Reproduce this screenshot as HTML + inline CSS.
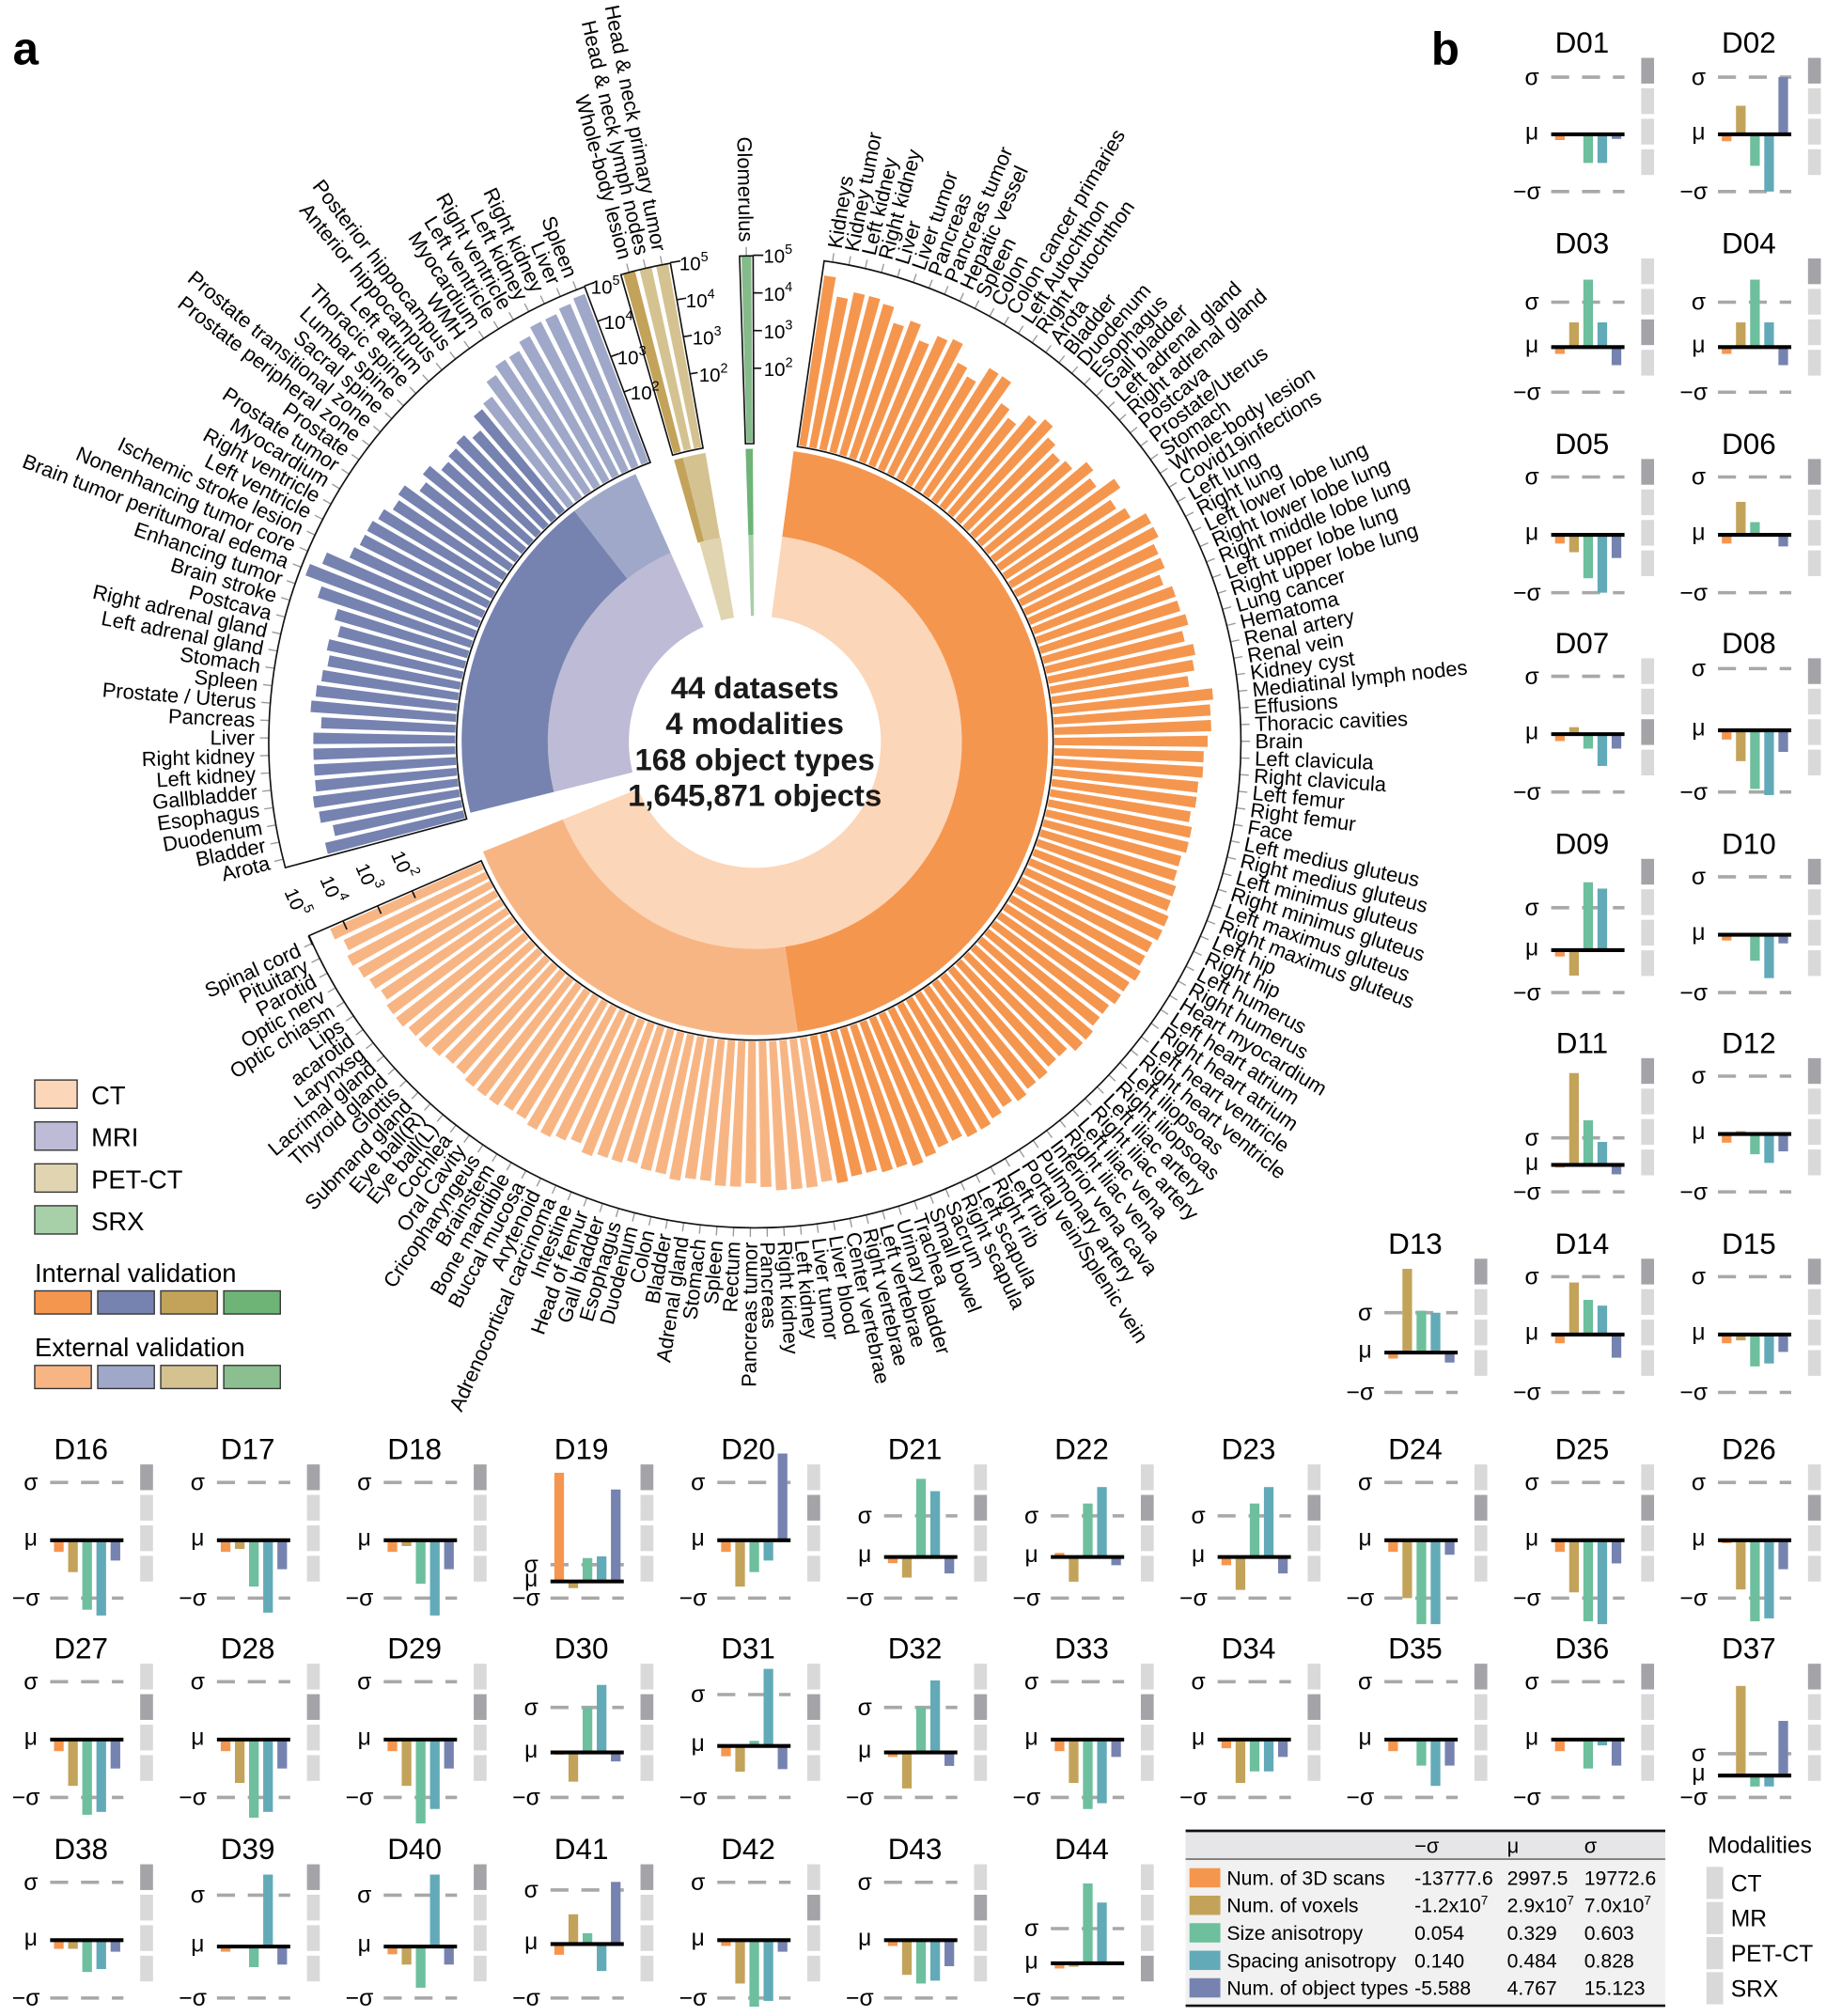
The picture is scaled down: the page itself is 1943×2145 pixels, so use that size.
<!DOCTYPE html>
<html><head><meta charset="utf-8">
<style>
html,body{margin:0;padding:0;background:#fff;}
svg{display:block;font-family:"Liberation Sans",Arial,sans-serif;}
</style></head>
<body>
<svg id="s" width="1943" height="2145" viewBox="0 0 1420 1568" preserveAspectRatio="none" xmlns="http://www.w3.org/2000/svg"></svg>
<script>
(function(){
var cx=587,cy=577,out=[];
function P(r,a){var t=a*Math.PI/180;return [cx+r*Math.sin(t),cy-r*Math.cos(t)];}
function f(n){return n.toFixed(2);}
function sector(r0,r1,a0,a1,fill,stroke,sw){
 var p0=P(r1,a0),p1=P(r1,a1),p2=P(r0,a1),p3=P(r0,a0),L=(a1-a0)>180?1:0;
 return '<path d="M'+f(p0[0])+' '+f(p0[1])+' A'+r1+' '+r1+' 0 '+L+' 1 '+f(p1[0])+' '+f(p1[1])+' L'+f(p2[0])+' '+f(p2[1])+' A'+r0+' '+r0+' 0 '+L+' 0 '+f(p3[0])+' '+f(p3[1])+' Z" fill="'+(fill||'none')+'"'+(stroke?' stroke="'+stroke+'" stroke-width="'+(sw||1.2)+'"':'')+'/>';
}
out.push(sector(98,161,7.6,248,'#fcd6b8'));
out.push(sector(161,228,7.6,171.6,'#f5964f'));
out.push(sector(161,228,171.6,248,'#f8b584'));
out.push(sector(98,161,256,336,'#bdbbd6'));
out.push(sector(161,228,256,322,'#7683b0'));
out.push(sector(161,228,322,336,'#9fa8c8'));
out.push(sector(98,161,344.5,350.5,'#e1d4b0'));
out.push(sector(161,228,344,345.8,'#c3a35a'));
out.push(sector(161,228,345.8,350.3,'#d5c291'));
out.push(sector(98,161,358.2,359.6,'#a7cfa8'));
out.push(sector(161,228,358.2,359.6,'#6db476'));

function R(v){return 232+29.3*v;}
function label(a,txt){
 var p=P(389,a),t;
 var q0=P(378,a),q1=P(385,a);
 out.push('<line x1="'+f(q0[0])+'" y1="'+f(q0[1])+'" x2="'+f(q1[0])+'" y2="'+f(q1[1])+'" stroke="#999" stroke-width="1"/>');
 if(a<180){t='<text x="'+f(p[0])+'" y="'+f(p[1])+'" font-size="16" dominant-baseline="central" text-anchor="start" transform="rotate('+f(a-90)+' '+f(p[0])+' '+f(p[1])+')">'+txt+'</text>';}
 else{t='<text x="'+f(p[0])+'" y="'+f(p[1])+'" font-size="16" dominant-baseline="central" text-anchor="end" transform="rotate('+f(a+90)+' '+f(p[0])+' '+f(p[1])+')">'+txt+'</text>';}
 out.push(t);
}
function bars(a0,a1,names,vals,colorFn){
 var n=names.length,st=(a1-a0)/n;
 for(var i=0;i<n;i++){
  var c=a0+st*(i+0.5),w=st*0.36,v=vals[i]||3.8;
  out.push(sector(233,R(v),c-w,c+w,colorFn(i)));
  label(c,names[i]);
 }
}
var ctN=["Kidneys","Kidney tumor","Left kidney","Right kidney","Liver","Liver tumor","Pancreas","Pancreas tumor","Hepatic vessel","Spleen","Colon","Colon cancer primaries","Left Autochthon","Right Autochthon","Arota","Bladder","Duodenum","Esophagus","Gall bladder","Left adrenal gland","Right adrenal gland","Postcava","Prostate/Uterus","Stomach","Whole-body lesion","Covid19infections","Left lung","Right lung","Left lower lobe lung","Right lower lobe lung","Right middle lobe lung","Left upper lobe lung","Right upper lobe lung","Lung cancer","Hematoma","Renal artery","Renal vein","Kidney cyst","Mediatinal lymph nodes","Effusions","Thoracic cavities","Brain","Left clavicula","Right clavicula","Left femur","Right femur","Face","Left medius gluteus","Right medius gluteus","Left minimus gluteus","Right minimus gluteus","Left maximus gluteus","Right maximus gluteus","Left hip","Right hip","Left humerus","Right humerus","Heart myocardium","Left heart atrium","Right heart atrium","Left heart ventricle","Right heart ventricle","Left iliopsoas","Right iliopsoas","Left iliac artery","Right iliac artery","Left iliac vena","Right iliac vena","Inferior vena cava","Pulmonary artery","Portal vein/Splenic vein","Left rib","Right rib","Left scapula","Right scapula","Sacrum","Small bowel","Trachea","Urinary bladder","Left vertebrae","Right vertebrae","Center vertebrae",
"Liver blood","Liver tumor","Left kidney","Right kidney","Pancreas","Pancreas tumor","Rectum","Spleen","Stomach","Adrenal gland","Bladder","Colon","Duodenum","Esophagus","Gall bladder","Head of femur","Intestine","Adrenocortical carcinoma","Arytenoid","Buccal mucosa","Bone mandible","Brainstem","Cricopharyngeus","Oral Cavity","Cochlea","Eye ball(L)","Eye ball(R)","Submand gland","Glottis","Thyroid gland","Lacrimal gland","Larynxsg","acarotid","Lips","Optic chiasm","Optic nerv","Parotid","Pituitary","Spinal cord"];
var ctV=[4.6,4.1,4.3,4.3,4.2,3.8,4.0,3.6,3.9,4.0,3.5,3.3,
3.8,3.8,3.2,3.0,3.4,3.6,3.3,3.1,3.2,3.6,3.4,3.9,3.5,3.7,
4.1,4.1,3.9,3.9,3.7,3.9,3.9,4.0,3.8,4.0,3.9,3.7,4.3,4.2,4.2,
4.1,4.0,4.0,3.9,3.9,3.8,3.9,3.9,3.8,3.8,3.9,3.9,4.0,4.0,3.9,3.9,4.0,
3.9,3.9,3.8,3.8,3.9,3.9,3.7,3.7,3.8,3.8,3.9,3.8,3.9,4.0,4.0,3.9,3.9,4.0,4.1,4.0,4.0,3.9,3.9,4.0,
3.9,4.0,4.0,4.0,3.9,3.8,3.9,3.9,3.8,3.8,3.9,3.8,3.8,3.7,3.8,3.8,3.9,3.7,3.8,3.9,3.9,3.8,3.8,3.9,3.9,3.9,3.8,3.8,3.9,4.0,4.0,4.1,4.1,4.0,4.1,4.2,4.3,4.2,4.4];
bars(8.2,246.5,ctN,ctV,function(i){return i<82?'#f5964f':'#f8b584';});
var mrN=["Arota","Bladder","Duodenum","Esophagus","Gallbladder","Left kidney","Right kidney","Liver","Pancreas","Prostate / Uterus","Spleen","Stomach","Left adrenal gland","Right adrenal gland","Postcava","Brain stroke","Enhancing tumor","Brain tumor peritumoral edema","Nonenhancing tumor core","Ischemic stroke lesion","Left ventricle","Right ventricle","Myocardium","Prostate tumor","Prostate","Prostate peripheral zone","Prostate transitional zone","Sacral spine","Lumbar spine","Thoracic spine","Left atrium","Anterior hippocampus","Posterior hippocampus","WMH","Myocardium","Left ventricle","Right ventricle","Left kidney","Right kidney","Liver","Spleen"];
var mrV=[3.8,3.5,3.8,3.9,3.8,3.8,3.8,3.8,3.6,3.9,3.8,3.7,3.6,3.7,3.5,3.7,4.3,4.8,4.5,3.9,3.8,3.8,3.7,3.5,3.6,3.2,3.4,3.1,3.2,3.3,3.1,3.5,3.6,4.0,4.2,4.2,4.4,4.6,4.6,4.7,4.8];
bars(255,339.5,mrN,mrV,function(i){return i<32?'#7683b0':'#9fa8c8';});
bars(344,350,["Whole-body lesion","Head &amp; neck lymph nodes","Head &amp; neck primary tumor"],[5,5,5],function(i){return i==0?'#c3a35a':'#d5c291';});
bars(358.2,359.8,["Glomerulus"],[5],function(){return '#85bb8a';});
out.push(sector(232,378,8.2,246.5,null,'#111',1.2));
out.push(sector(232,378,255,339.5,null,'#111',1.2));
out.push(sector(232,378,344,350,null,'#111',1.2));
out.push(sector(232,378,358.2,359.8,null,'#111',1.2));
function axis(a,dx,side){
 for(var k=2;k<=5;k++){
  var r=R(k),p=P(r,a),q=P(r,a+side*1.2);
  out.push('<line x1="'+f(p[0])+'" y1="'+f(p[1])+'" x2="'+f(q[0])+'" y2="'+f(q[1])+'" stroke="#111" stroke-width="1.2"/>');
  out.push('<text x="'+f(p[0]+dx)+'" y="'+f(p[1]+6)+'" font-size="15" text-anchor="start">10<tspan dy="-7" font-size="10.5">'+k+'</tspan></text>');
 }
}
axis(339.5,5,1);axis(350,7,1);axis(359.8,8,1);
for(var k=2;k<=5;k++){
 var a=250.7,p=P(R(k),a),q0=P(R(k),246.5),q1=P(R(k),245.3);
 out.push('<line x1="'+f(q0[0])+'" y1="'+f(q0[1])+'" x2="'+f(q1[0])+'" y2="'+f(q1[1])+'" stroke="#111" stroke-width="1.2"/>');
 out.push('<text x="'+f(p[0])+'" y="'+f(p[1])+'" font-size="15" text-anchor="middle" dominant-baseline="central" transform="rotate(66.5 '+f(p[0])+' '+f(p[1])+')">10<tspan dy="-7" font-size="10.5">'+k+'</tspan></text>');
}
var ct=["44 datasets","4 modalities","168 object types","1,645,871 objects"];
for(var i=0;i<4;i++)out.push('<text x="'+cx+'" y="'+(543+28*i)+'" font-size="24" font-weight="bold" text-anchor="middle" fill="#1a1a1a">'+ct[i]+'</text>');
out.push('<text x="10" y="50" font-size="36" font-weight="bold">a</text>');
out.push('<text x="1113" y="50" font-size="36" font-weight="bold">b</text>');
var lg=[["CT","#fcd6b8"],["MRI","#bdbbd6"],["PET-CT","#e1d4b0"],["SRX","#a7cfa8"]];
for(var i=0;i<4;i++){var y=840+32.6*i;
 out.push('<rect x="27" y="'+y+'" width="33" height="22" fill="'+lg[i][1]+'" stroke="#333" stroke-width="1"/>');
 out.push('<text x="71" y="'+(y+19)+'" font-size="20">'+lg[i][0]+'</text>');}
out.push('<text x="27" y="997" font-size="20">Internal validation</text>');
out.push('<text x="27" y="1055" font-size="20">External validation</text>');
var ic=["#f5964f","#7683b0","#c3a35a","#6db476"],ec=["#f8b584","#9fa8c8","#d5c291","#8bbf8f"],sx=[27,76,125,174];
for(var i=0;i<4;i++){
 out.push('<rect x="'+sx[i]+'" y="1004" width="44" height="18" fill="'+ic[i]+'" stroke="#333" stroke-width="1"/>');
 out.push('<rect x="'+sx[i]+'" y="1062" width="44" height="18" fill="'+ec[i]+'" stroke="#333" stroke-width="1"/>');
}
var bc=["#f5964f","#c3a35a","#6dbf9e","#62aab8","#7683b0"];
var D=[
[1,9,32,44.5,[-0.1,-0.03,-0.5,-0.5,-0.08],0],
[2,10,32,44.5,[-0.12,0.5,-0.55,-1.0,1.0],0],
[3,9,188,35,[-0.15,0.55,1.5,0.55,-0.4],2],
[4,10,188,35,[-0.15,0.55,1.5,0.55,-0.4],0],
[5,9,344,45,[-0.15,-0.3,-0.75,-1.0,-0.4],0],
[6,10,344,45,[-0.15,0.57,0.22,0,-0.2],0],
[7,9,499,45,[-0.12,0.12,-0.25,-0.55,-0.25],2],
[8,10,499,48,[-0.15,-0.5,-0.95,-1.05,-0.35],0],
[9,9,655,33,[-0.15,-0.6,1.6,1.45,-0.03],0],
[10,10,655,45,[-0.1,-0.02,-0.45,-0.75,-0.15],0],
[11,9,810,21,[-0.1,3.4,1.65,0.85,-0.35],0],
[12,10,810,45,[-0.15,0.05,-0.35,-0.5,-0.3],0],
[13,8,966,31,[-0.15,2.1,1.05,1.0,-0.25],0],
[14,9,966,45,[-0.15,0.9,0.6,0.5,-0.4],0],
[15,10,966,45,[-0.15,-0.1,-0.55,-0.5,-0.3],0],
[16,0,1126,45,[-0.2,-0.55,-1.2,-1.3,-0.35],0],
[17,1,1126,45,[-0.2,-0.15,-0.8,-1.25,-0.5],0],
[18,2,1126,45,[-0.2,-0.1,-0.75,-1.3,-0.5],0],
[19,3,1126,13,[6.5,-0.4,1.4,1.5,5.5],0],
[20,4,1126,45,[-0.2,-0.8,-0.55,-0.35,1.5],1],
[21,5,1126,32,[-0.15,-0.5,1.9,1.6,-0.4],1],
[22,6,1126,32,[0.1,-0.6,1.3,1.7,-0.2],1],
[23,7,1126,32,[-0.2,-0.8,1.3,1.7,-0.4],1],
[24,8,1126,45,[-0.2,-1.0,-1.45,-1.45,-0.25],1],
[25,9,1126,45,[-0.2,-0.9,-1.4,-1.45,-0.4],1],
[26,10,1126,45,[-0.05,-0.85,-1.4,-1.35,-0.5],1],
[27,0,1281,45,[-0.2,-0.8,-1.3,-1.25,-0.5],1],
[28,1,1281,45,[-0.2,-0.75,-1.35,-1.25,-0.5],1],
[29,2,1281,45,[-0.2,-0.8,-1.45,-1.2,-0.5],1],
[30,3,1281,35,[-0.05,-0.65,1.0,1.5,-0.2],1],
[31,4,1281,40,[-0.2,-0.5,0.1,1.5,-0.45],1],
[32,5,1281,35,[-0.1,-0.8,1.0,1.6,-0.3],1],
[33,6,1281,45,[-0.2,-0.75,-1.2,-1.1,-0.3],1],
[34,7,1281,45,[-0.15,-0.75,-0.55,-0.55,-0.3],1],
[35,8,1281,45,[-0.2,0,-0.45,-0.8,-0.45],0],
[36,9,1281,45,[-0.2,0,-0.5,-0.1,-0.45],0],
[37,10,1281,17,[0,4.1,-0.5,-0.5,2.5],0],
[38,0,1437,45,[-0.15,-0.15,-0.55,-0.5,-0.2],0],
[39,1,1437,40,[-0.1,0,-0.4,1.4,-0.35],0],
[40,2,1437,40,[-0.15,-0.35,-0.8,1.4,-0.35],0],
[41,3,1437,42,[-0.2,0.55,0.2,-0.5,1.15],0],
[42,4,1437,45,[-0.1,-0.75,-1.15,-1.05,-0.2],1],
[43,5,1437,45,[-0.1,-0.6,-0.75,-0.7,-0.45],1],
[44,6,1437,27,[-0.15,-0.1,2.3,1.75,0],3]
];
for(var d=0;d<D.length;d++){
 var e=D[d],c=63+129.7*e[1],ty=e[2],s=e[3],mn=ty+117,mu=mn-s,sg=mn-2*s;
 var nm='D'+(e[0]<10?'0':'')+e[0];
 out.push('<text x="'+f(c)+'" y="'+(ty+9)+'" font-size="23" text-anchor="middle">'+nm+'</text>');
 for(var b=0;b<4;b++)out.push('<rect x="'+f(c+46)+'" y="'+(ty+13+23.7*b)+'" width="10" height="20" fill="'+(b==e[5]?'#a4a4a8':'#d9d9d9')+'"/>');
 out.push('<line x1="'+f(c-24)+'" y1="'+f(sg)+'" x2="'+f(c+33)+'" y2="'+f(sg)+'" stroke="#a8a8a8" stroke-width="2.6" stroke-dasharray="14,10"/>');
 out.push('<line x1="'+f(c-24)+'" y1="'+f(mn)+'" x2="'+f(c+33)+'" y2="'+f(mn)+'" stroke="#a8a8a8" stroke-width="2.6" stroke-dasharray="14,10"/>');
 for(var b=0;b<5;b++){var v=e[4][b]*s;if(Math.abs(v)<0.5)continue;
  var y0=v>0?mu-v:mu,h=Math.abs(v);
  out.push('<rect x="'+f(c-21+11*b)+'" y="'+f(y0)+'" width="7.5" height="'+f(h)+'" fill="'+bc[b]+'"/>');}
 out.push('<line x1="'+f(c-24)+'" y1="'+f(mu)+'" x2="'+f(c+33)+'" y2="'+f(mu)+'" stroke="#000" stroke-width="3"/>');
 out.push('<text x="'+f(c-39)+'" y="'+f(sg+6)+'" font-size="18" text-anchor="middle">σ</text>');
 out.push('<text x="'+f(c-39)+'" y="'+f(mu+4)+'" font-size="18" text-anchor="middle">μ</text>');
 out.push('<text x="'+f(c-32)+'" y="'+f(mn+6)+'" font-size="18" text-anchor="end">−σ</text>');
}
out.push('<rect x="922" y="1424" width="373" height="22" fill="#e6e6e8"/>');
out.push('<rect x="922" y="1446" width="373" height="113" fill="#f0f1f0"/>');
out.push('<line x1="922" y1="1424" x2="1295" y2="1424" stroke="#111" stroke-width="2"/>');
out.push('<line x1="922" y1="1446" x2="1295" y2="1446" stroke="#555" stroke-width="1"/>');
out.push('<line x1="922" y1="1560" x2="1295" y2="1560" stroke="#111" stroke-width="2"/>');
out.push('<text x="1100" y="1441" font-size="16">−σ</text><text x="1172" y="1441" font-size="16">μ</text><text x="1232" y="1441" font-size="16">σ</text>');
var rows=[["Num. of 3D scans","-13777.6","2997.5","19772.6"],
["Num. of voxels",'-1.2x10<tspan dy="-6" font-size="10">7</tspan>','2.9x10<tspan dy="-6" font-size="10">7</tspan>','7.0x10<tspan dy="-6" font-size="10">7</tspan>'],
["Size anisotropy","0.054","0.329","0.603"],["Spacing anisotropy","0.140","0.484","0.828"],["Num. of object types","-5.588","4.767","15.123"]];
var rc=["#f5964f","#c3a35a","#6dbf9e","#62aab8","#7683b0"];
for(var i=0;i<5;i++){var y=1466+21.4*i;
 out.push('<rect x="925" y="'+(y-13)+'" width="24" height="15" fill="'+rc[i]+'"/>');
 out.push('<text x="954" y="'+y+'" font-size="15.5">'+rows[i][0]+'</text>');
 out.push('<text x="1100" y="'+y+'" font-size="15.5">'+rows[i][1]+'</text>');
 out.push('<text x="1172" y="'+y+'" font-size="15.5">'+rows[i][2]+'</text>');
 out.push('<text x="1232" y="'+y+'" font-size="15.5">'+rows[i][3]+'</text>');}
out.push('<text x="1328" y="1441" font-size="18">Modalities</text>');
var md=["CT","MR","PET-CT","SRX"];
for(var i=0;i<4;i++){var y=1452+27.3*i;
 out.push('<rect x="1327" y="'+y+'" width="13" height="25" fill="#d9d9d9"/>');
 out.push('<text x="1346" y="'+(y+19)+'" font-size="18">'+md[i]+'</text>');}
document.getElementById('s').innerHTML=out.join('');
})();
</script>
</body></html>
